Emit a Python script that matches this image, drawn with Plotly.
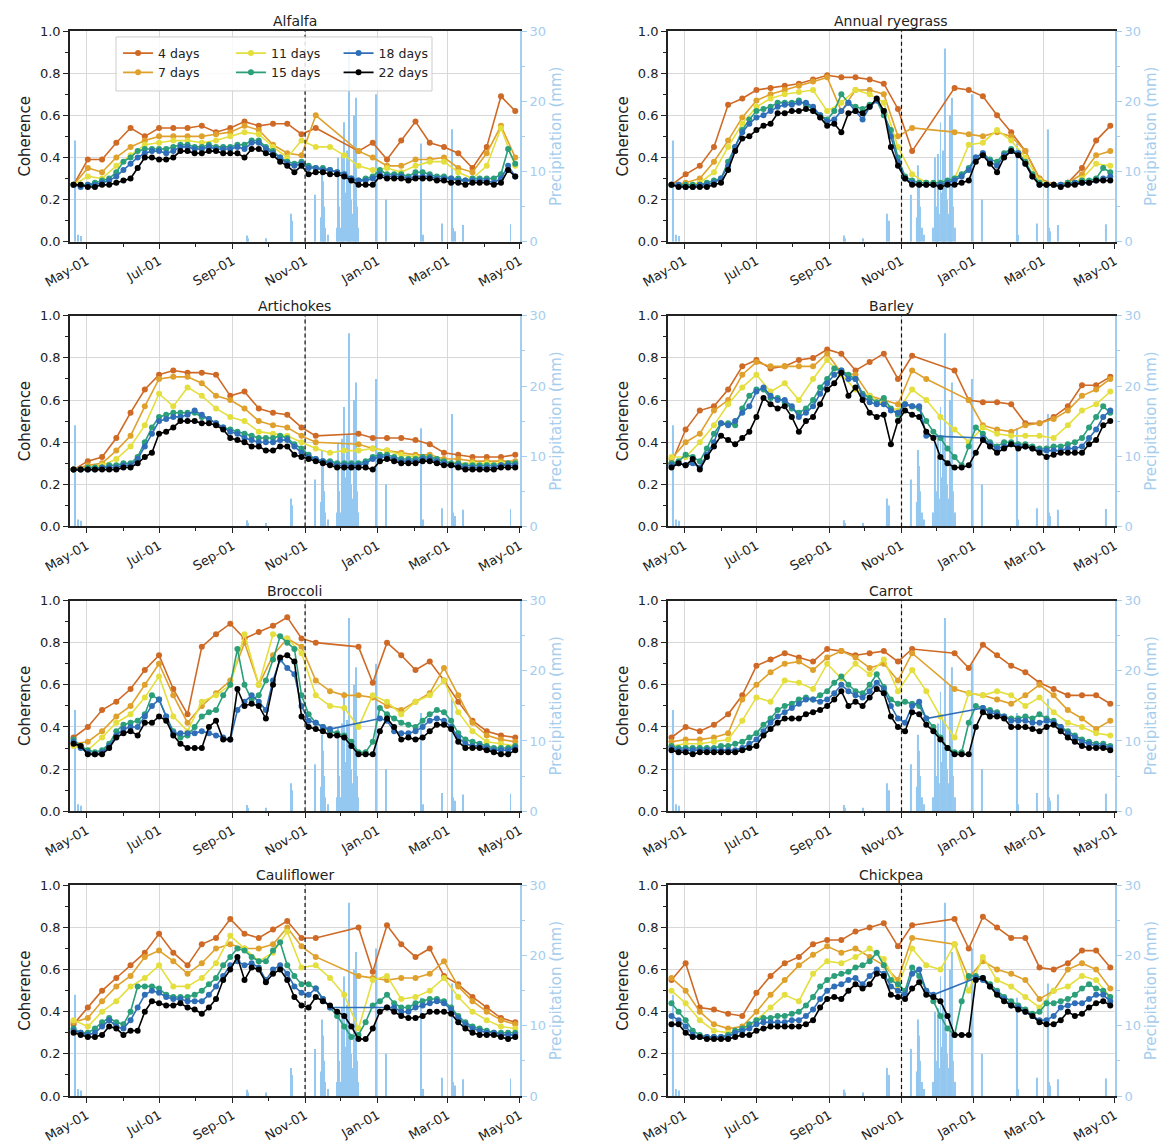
import datetime as dt
import plotly.graph_objects as go
from plotly.subplots import make_subplots

# ---------------- data ----------------
CROPS = ["Alfalfa", "Annual ryegrass", "Artichokes", "Barley",
         "Broccoli", "Carrot", "Cauliflower", "Chickpea"]
LAGS = ["4 days", "7 days", "11 days", "15 days", "18 days", "22 days"]

START = dt.date(2017, 4, 20)
DATES_6 = [START + dt.timedelta(days=6 * i) for i in range(63)]   # 6-day acquisitions
DATES_12 = DATES_6[::2]                                            # 12-day acquisitions

PRECIP_DATES = ["2017-04-21", "2017-04-24", "2017-04-26", "2017-09-13", "2017-09-14",
                "2017-09-29", "2017-10-20", "2017-10-21", "2017-11-09", "2017-11-14",
                "2017-11-15", "2017-11-16", "2017-11-17", "2017-11-18", "2017-11-20",
                "2017-11-28", "2017-11-29", "2017-11-30", "2017-12-01", "2017-12-02",
                "2017-12-03", "2017-12-04", "2017-12-05", "2017-12-06", "2017-12-07",
                "2017-12-08", "2017-12-09", "2017-12-10", "2017-12-11", "2017-12-12",
                "2017-12-13", "2017-12-14", "2017-12-15", "2017-12-16", "2017-12-31",
                "2018-01-08", "2018-02-07", "2018-02-08", "2018-02-24", "2018-03-05",
                "2018-03-06", "2018-03-07", "2018-03-14", "2018-04-23"]
PRECIP_MM = [14.4, 1.0, 0.8, 0.9, 0.5,
             0.5, 4.0, 3.0, 6.7, 3.5,
             10.9, 8.6, 5.0, 2.0, 1.0,
             2.0, 12.0, 5.0, 2.0, 12.5,
             4.0, 17.0, 7.0, 13.0, 5.0,
             27.5, 9.0, 6.0, 4.0, 18.0,
             7.0, 20.5, 5.0, 2.0, 21.0,
             6.0, 14.0, 1.0, 2.6, 16.0,
             2.0, 1.5, 2.4, 2.5]

N = None
# ---- Alfalfa ----
ALFALFA_4 = [0.27, 0.39, 0.39, 0.47, 0.54, 0.50, 0.54, 0.54, 0.54, 0.55, 0.52, 0.54, 0.57, 0.55, 0.56, 0.56,
             0.51, 0.54, N, N, 0.43, 0.47, 0.39, 0.48, 0.57, 0.47, 0.45, 0.42, 0.35, 0.45, 0.69, 0.62]
ALFALFA_7 = [0.27, 0.35, 0.33, 0.40, 0.45, 0.48, 0.50, 0.50, 0.50, 0.50, 0.51, 0.52, 0.55, 0.53, 0.46, 0.42,
             0.41, 0.60, N, N, 0.43, 0.40, 0.36, 0.36, 0.39, 0.39, 0.40, 0.35, 0.33, 0.42, 0.55, 0.40]
ALFALFA_11 = [0.27, 0.31, 0.30, 0.36, 0.41, 0.46, 0.47, 0.48, 0.48, 0.47, 0.48, 0.50, 0.52, 0.51, 0.45, 0.40,
              0.48, 0.45, 0.45, 0.41, 0.36, 0.34, 0.35, 0.33, 0.36, 0.38, 0.38, 0.33, 0.30, 0.36, 0.54, 0.36]
ALFALFA_15 = [0.27, 0.27, 0.27, 0.28, 0.29, 0.30, 0.33, 0.38, 0.40, 0.43,
              0.44, 0.44, 0.44, 0.44, 0.45, 0.46, 0.46, 0.45, 0.45, 0.46,
              0.45, 0.45, 0.45, 0.46, 0.46, 0.48, 0.48, 0.45, 0.43, 0.40,
              0.38, 0.37, 0.38, 0.36, 0.35, 0.35, 0.34, 0.33, 0.32, 0.30,
              0.29, 0.30, 0.31, 0.34, 0.32, 0.32, 0.32, 0.31, 0.33, 0.33,
              0.32, 0.31, 0.31, 0.30, 0.30, 0.29, 0.30, 0.30, 0.30, 0.30,
              0.32, 0.44, 0.37]
ALFALFA_18 = [0.27, 0.26, 0.27, 0.27, 0.28, 0.29, 0.31, 0.34, 0.37, 0.40,
              0.42, 0.43, 0.43, 0.42, 0.43, 0.45, 0.45, 0.44, 0.44, 0.45,
              0.44, 0.44, 0.44, 0.45, 0.44, 0.47, 0.47, 0.44, 0.42, 0.40,
              0.37, 0.36, 0.37, 0.35, 0.35, 0.34, 0.34, 0.33, 0.32, 0.30,
              0.29, 0.29, 0.30, 0.32, 0.31, 0.31, 0.31, 0.30, 0.31, 0.31,
              0.31, 0.30, 0.30, 0.30, 0.29, 0.29, 0.29, 0.29, 0.29, 0.28,
              0.30, 0.36, 0.31]
ALFALFA_22 = [0.27, 0.27, 0.26, 0.26, 0.27, 0.27, 0.28, 0.29, 0.30, 0.35,
              0.40, 0.40, 0.39, 0.39, 0.40, 0.43, 0.43, 0.42, 0.42, 0.43,
              0.43, 0.42, 0.42, 0.42, 0.40, 0.44, 0.44, 0.42, 0.41, 0.38,
              0.36, 0.33, 0.36, 0.32, 0.33, 0.33, 0.32, 0.32, 0.31, 0.29,
              0.27, 0.27, 0.27, 0.31, 0.30, 0.30, 0.30, 0.29, 0.30, 0.30,
              0.30, 0.29, 0.29, 0.28, 0.28, 0.27, 0.28, 0.28, 0.28, 0.27,
              0.28, 0.34, 0.31]
# ---- Annual ryegrass ----
RYEGRASS_4 = [0.27, 0.32, 0.36, 0.45, 0.65, 0.68, 0.72, 0.73, 0.74, 0.75, 0.77, 0.79, 0.78, 0.78, 0.77, 0.75,
              0.63, 0.43, N, N, 0.73, 0.72, 0.69, 0.60, 0.52, 0.43, 0.30, 0.27, 0.28, 0.35, 0.48, 0.55]
RYEGRASS_7 = [0.27, 0.28, 0.30, 0.38, 0.48, 0.59, 0.67, 0.70, 0.72, 0.74, 0.76, 0.78, 0.62, 0.72, 0.72, 0.70,
              0.50, 0.54, N, N, 0.52, 0.51, 0.50, 0.52, 0.50, 0.43, 0.30, 0.27, 0.28, 0.32, 0.41, 0.43]
RYEGRASS_11 = [0.27, 0.27, 0.28, 0.33, 0.45, 0.56, 0.64, 0.68, 0.70, 0.71, 0.72, 0.62, 0.66, 0.72, 0.70, 0.66,
               0.45, 0.32, 0.28, 0.28, 0.30, 0.46, 0.47, 0.53, 0.48, 0.40, 0.29, 0.27, 0.27, 0.30, 0.37, 0.36]
RYEGRASS_15 = [0.27, 0.27, 0.27, 0.27, 0.27, 0.28, 0.29, 0.30, 0.38, 0.45,
               0.53, 0.58, 0.62, 0.63, 0.64, 0.66, 0.66, 0.66, 0.67, 0.65,
               0.63, 0.60, 0.58, 0.62, 0.70, 0.66, 0.64, 0.63, 0.65, 0.67,
               0.60, 0.53, 0.40, 0.31, 0.29, 0.28, 0.28, 0.28, 0.28, 0.29,
               0.30, 0.32, 0.35, 0.40, 0.42, 0.39, 0.38, 0.42, 0.44, 0.42,
               0.38, 0.32, 0.28, 0.27, 0.27, 0.27, 0.28, 0.28, 0.29, 0.29,
               0.30, 0.35, 0.33]
RYEGRASS_18 = [0.27, 0.27, 0.26, 0.26, 0.27, 0.27, 0.28, 0.30, 0.36, 0.45,
               0.52, 0.56, 0.59, 0.60, 0.62, 0.64, 0.65, 0.65, 0.66, 0.66,
               0.64, 0.60, 0.57, 0.58, 0.62, 0.66, 0.62, 0.58, 0.64, 0.67,
               0.62, 0.50, 0.38, 0.30, 0.28, 0.27, 0.27, 0.27, 0.27, 0.28,
               0.29, 0.31, 0.34, 0.40, 0.42, 0.38, 0.36, 0.41, 0.43, 0.42,
               0.37, 0.31, 0.27, 0.27, 0.27, 0.27, 0.27, 0.28, 0.28, 0.28,
               0.29, 0.30, 0.31]
RYEGRASS_22 = [0.27, 0.26, 0.26, 0.26, 0.26, 0.26, 0.27, 0.28, 0.34, 0.43,
               0.49, 0.50, 0.53, 0.55, 0.56, 0.61, 0.61, 0.62, 0.62, 0.63,
               0.62, 0.59, 0.55, 0.56, 0.52, 0.61, 0.62, 0.61, 0.64, 0.68,
               0.62, 0.45, 0.36, 0.30, 0.27, 0.27, 0.27, 0.27, 0.26, 0.27,
               0.27, 0.28, 0.29, 0.38, 0.41, 0.37, 0.33, 0.40, 0.43, 0.41,
               0.37, 0.31, 0.27, 0.27, 0.27, 0.26, 0.27, 0.27, 0.28, 0.28,
               0.29, 0.29, 0.29]
# ---- Artichokes ----
ARTICHOKES_4 = [0.27, 0.31, 0.33, 0.42, 0.54, 0.65, 0.72, 0.74, 0.73, 0.73, 0.72, 0.62, 0.64, 0.56, 0.54, 0.53,
                0.47, 0.43, N, N, 0.44, 0.42, 0.42, 0.42, 0.41, 0.39, 0.35, 0.34, 0.33, 0.33, 0.33, 0.34]
ARTICHOKES_7 = [0.27, 0.29, 0.30, 0.36, 0.43, 0.57, 0.70, 0.71, 0.71, 0.68, 0.62, 0.60, 0.56, 0.50, 0.48, 0.47,
                0.43, 0.40, N, N, 0.39, 0.37, 0.36, 0.35, 0.34, 0.34, 0.32, 0.32, 0.31, 0.31, 0.31, 0.31]
ARTICHOKES_11 = [0.27, 0.28, 0.29, 0.32, 0.38, 0.48, 0.63, 0.57, 0.66, 0.62, 0.56, 0.52, 0.50, 0.45, 0.44, 0.43,
                 0.40, 0.37, 0.35, 0.36, 0.36, 0.37, 0.36, 0.34, 0.33, 0.33, 0.31, 0.30, 0.30, 0.30, 0.30, 0.30]
ARTICHOKES_15 = [0.27, 0.27, 0.28, 0.28, 0.28, 0.29, 0.29, 0.30, 0.30, 0.33,
                 0.40, 0.47, 0.52, 0.53, 0.54, 0.54, 0.54, 0.54, 0.52, 0.51,
                 0.49, 0.47, 0.46, 0.45, 0.44, 0.43, 0.42, 0.42, 0.42, 0.43,
                 0.42, 0.39, 0.37, 0.34, 0.32, 0.31, 0.31, 0.30, 0.30, 0.30,
                 0.30, 0.31, 0.33, 0.34, 0.34, 0.33, 0.32, 0.32, 0.32, 0.33,
                 0.33, 0.32, 0.31, 0.30, 0.30, 0.29, 0.29, 0.29, 0.29, 0.29,
                 0.29, 0.30, 0.30]
ARTICHOKES_18 = [0.27, 0.27, 0.27, 0.27, 0.28, 0.28, 0.28, 0.29, 0.29, 0.32,
                 0.38, 0.44, 0.50, 0.51, 0.52, 0.52, 0.53, 0.55, 0.53, 0.51,
                 0.49, 0.47, 0.45, 0.44, 0.42, 0.41, 0.40, 0.40, 0.40, 0.41,
                 0.41, 0.38, 0.35, 0.33, 0.32, 0.31, 0.30, 0.29, 0.29, 0.29,
                 0.29, 0.30, 0.32, 0.33, 0.33, 0.32, 0.31, 0.31, 0.31, 0.32,
                 0.32, 0.31, 0.30, 0.29, 0.29, 0.28, 0.28, 0.28, 0.28, 0.28,
                 0.29, 0.29, 0.29]
ARTICHOKES_22 = [0.27, 0.27, 0.27, 0.27, 0.27, 0.27, 0.27, 0.28, 0.28, 0.30,
                 0.33, 0.35, 0.44, 0.45, 0.47, 0.50, 0.50, 0.50, 0.49, 0.49,
                 0.48, 0.46, 0.42, 0.41, 0.40, 0.38, 0.38, 0.36, 0.36, 0.38,
                 0.38, 0.34, 0.33, 0.32, 0.31, 0.30, 0.29, 0.28, 0.28, 0.28,
                 0.28, 0.28, 0.27, 0.31, 0.32, 0.31, 0.30, 0.30, 0.30, 0.31,
                 0.31, 0.30, 0.29, 0.29, 0.28, 0.27, 0.27, 0.27, 0.27, 0.27,
                 0.28, 0.28, 0.28]
# ---- Barley ----
BARLEY_4 = [0.30, 0.46, 0.55, 0.57, 0.65, 0.76, 0.79, 0.75, 0.76, 0.79, 0.80, 0.84, 0.82, 0.74, 0.78, 0.82,
            0.70, 0.81, N, N, 0.74, 0.60, 0.59, 0.59, 0.58, 0.49, 0.49, 0.52, 0.57, 0.67, 0.67, 0.71]
BARLEY_7 = [0.32, 0.40, 0.44, 0.55, 0.60, 0.72, 0.78, 0.76, 0.76, 0.76, 0.76, 0.82, 0.73, 0.72, 0.62, 0.60,
            0.58, 0.74, 0.70, N, N, 0.60, 0.48, 0.46, 0.45, 0.48, 0.49, 0.51, 0.55, 0.62, 0.65, 0.70]
BARLEY_11 = [0.33, 0.33, 0.40, 0.48, 0.58, 0.66, 0.72, 0.64, 0.68, 0.60, 0.70, 0.79, 0.72, 0.65, 0.62, 0.58,
             0.55, 0.65, 0.60, 0.52, 0.46, 0.40, 0.47, 0.44, 0.43, 0.43, 0.43, 0.42, 0.48, 0.55, 0.58, 0.64]
BARLEY_15 = [0.30, 0.31, 0.34, 0.33, 0.31, 0.37, 0.44, 0.49, 0.49, 0.48,
             0.56, 0.62, 0.65, 0.65, 0.61, 0.61, 0.59, 0.56, 0.54, 0.56,
             0.60, 0.66, 0.70, 0.75, 0.74, 0.72, 0.70, 0.63, 0.61, 0.59,
             0.61, 0.56, 0.53, 0.58, 0.57, 0.56, 0.50, 0.45, 0.42, 0.37,
             0.33, 0.29, 0.38, 0.47, 0.44, 0.40, 0.38, 0.40, 0.40, 0.39,
             0.39, 0.38, 0.37, 0.37, 0.38, 0.38, 0.39, 0.40, 0.42, 0.47,
             0.52, 0.57, 0.54]
BARLEY_18 = [0.29, 0.30, 0.29, 0.30, 0.28, 0.34, 0.40, 0.49, 0.48, 0.50,
             0.54, 0.57, 0.64, 0.66, 0.62, 0.60, 0.60, 0.57, 0.52, 0.54,
             0.57, 0.63, 0.68, 0.72, 0.74, 0.70, 0.70, 0.62, 0.59, 0.58,
             0.58, 0.55, 0.54, 0.58, 0.57, 0.57, 0.43, N, N, N,
             N, N, N, N, 0.42, 0.39, 0.37, 0.38, 0.39, 0.38,
             0.38, 0.37, 0.36, 0.36, 0.36, 0.36, 0.37, 0.37, 0.38, 0.42,
             0.46, 0.52, 0.55]
BARLEY_22 = [0.28, 0.30, 0.29, 0.32, 0.27, 0.33, 0.38, 0.43, 0.41, 0.39,
             0.42, 0.45, 0.52, 0.61, 0.58, 0.56, 0.57, 0.52, 0.45, 0.50,
             0.52, 0.58, 0.65, 0.68, 0.73, 0.62, 0.66, 0.60, 0.54, 0.52,
             0.53, 0.39, 0.50, 0.55, 0.53, 0.52, 0.45, 0.42, 0.33, 0.30,
             0.28, 0.28, 0.29, 0.35, 0.41, 0.38, 0.35, 0.37, 0.39, 0.37,
             0.38, 0.37, 0.35, 0.33, 0.34, 0.35, 0.35, 0.35, 0.35, 0.39,
             0.41, 0.48, 0.50]
# ---- Broccoli ----
BROCCOLI_4 = [0.35, 0.40, 0.48, 0.52, 0.58, 0.67, 0.74, 0.58, 0.46, 0.78, 0.84, 0.89, 0.82, 0.85, 0.88, 0.92,
              0.82, 0.80, N, N, 0.78, 0.61, 0.80, 0.74, 0.67, 0.71, 0.62, 0.52, 0.43, 0.38, 0.36, 0.35]
BROCCOLI_7 = [0.32, 0.33, 0.38, 0.45, 0.50, 0.60, 0.70, 0.55, 0.42, 0.50, 0.56, 0.62, 0.80, 0.60, 0.74, 0.82,
              0.78, 0.62, 0.57, 0.55, 0.55, 0.54, 0.50, 0.48, 0.52, 0.56, 0.68, 0.55, 0.42, 0.36, 0.34, 0.33]
BROCCOLI_11 = [0.31, 0.29, 0.35, 0.42, 0.46, 0.54, 0.64, 0.45, 0.38, 0.52, 0.55, 0.60, 0.84, 0.60, 0.84, 0.82,
               0.75, 0.55, 0.50, 0.49, 0.40, 0.55, 0.52, 0.46, 0.52, 0.55, 0.62, 0.47, 0.38, 0.33, 0.32, 0.31]
BROCCOLI_15 = [0.34, 0.31, 0.29, 0.28, 0.29, 0.32, 0.38, 0.41, 0.42, 0.43,
               0.46, 0.55, 0.53, 0.45, 0.38, 0.35, 0.36, 0.40, 0.45, 0.47,
               0.48, 0.55, 0.60, 0.77, 0.60, 0.53, 0.55, 0.62, 0.72, 0.83,
               0.80, 0.77, 0.55, 0.46, 0.42, 0.40, 0.38, 0.37, 0.36, 0.33,
               0.28, 0.28, 0.33, 0.49, 0.46, 0.44, 0.42, 0.41, 0.40, 0.43,
               0.46, 0.48, 0.47, 0.43, 0.37, 0.34, 0.33, 0.32, 0.31, 0.30,
               0.30, 0.30, 0.31]
BROCCOLI_18 = [0.33, 0.30, 0.28, 0.27, 0.28, 0.31, 0.36, 0.39, 0.40, 0.40,
               0.45, 0.50, 0.53, 0.45, 0.37, 0.37, 0.37, 0.37, 0.38, 0.37,
               0.36, 0.35, 0.34, 0.48, 0.52, 0.55, 0.52, 0.48, 0.62, 0.72,
               0.68, 0.65, 0.50, 0.43, 0.42, 0.40, 0.39, N, N, N,
               N, N, N, 0.44, 0.43, 0.38, 0.37, 0.37, 0.38, 0.40,
               0.43, 0.44, 0.43, 0.40, 0.35, 0.32, 0.31, 0.31, 0.30, 0.29,
               0.29, 0.29, 0.30]
BROCCOLI_22 = [0.32, 0.31, 0.27, 0.27, 0.27, 0.30, 0.35, 0.37, 0.38, 0.36,
               0.42, 0.42, 0.45, 0.43, 0.36, 0.32, 0.30, 0.30, 0.30, 0.40,
               0.43, 0.34, 0.34, 0.58, 0.50, 0.51, 0.50, 0.44, 0.60, 0.73,
               0.74, 0.71, 0.45, 0.40, 0.39, 0.38, 0.36, 0.36, 0.35, 0.31,
               0.27, 0.27, 0.27, 0.38, 0.44, 0.40, 0.34, 0.35, 0.34, 0.35,
               0.38, 0.41, 0.41, 0.39, 0.33, 0.30, 0.30, 0.30, 0.29, 0.28,
               0.27, 0.27, 0.29]
# ---- Carrot ----
CARROT_4 = [0.35, 0.40, 0.38, 0.41, 0.46, 0.55, 0.69, 0.72, 0.75, 0.73, 0.71, 0.77, 0.76, 0.74, 0.75, 0.76,
            0.71, 0.77, N, N, 0.75, 0.68, 0.79, 0.74, 0.69, 0.66, 0.61, 0.58, 0.55, 0.55, 0.55, 0.51]
CARROT_7 = [0.33, 0.34, 0.34, 0.35, 0.37, 0.53, 0.60, 0.66, 0.70, 0.71, 0.67, 0.73, 0.76, 0.73, 0.68, 0.70,
            0.62, 0.75, N, N, 0.58, 0.56, 0.55, 0.53, 0.51, 0.55, 0.60, 0.55, 0.48, 0.44, 0.39, 0.43]
CARROT_11 = [0.31, 0.32, 0.32, 0.33, 0.34, 0.43, 0.54, 0.52, 0.62, 0.61, 0.58, 0.70, 0.63, 0.70, 0.65, 0.72,
             0.57, 0.67, 0.57, 0.45, 0.35, 0.56, 0.55, 0.57, 0.55, 0.50, 0.54, 0.47, 0.42, 0.40, 0.37, 0.36]
CARROT_15 = [0.31, 0.30, 0.30, 0.30, 0.30, 0.30, 0.30, 0.31, 0.31, 0.32,
             0.33, 0.35, 0.37, 0.41, 0.44, 0.48, 0.50, 0.51, 0.53, 0.54,
             0.53, 0.55, 0.57, 0.61, 0.64, 0.60, 0.57, 0.56, 0.60, 0.65,
             0.59, 0.53, 0.51, 0.52, 0.51, 0.50, 0.44, 0.40, 0.35, 0.30,
             0.28, 0.28, 0.42, 0.50, 0.49, 0.48, 0.47, 0.45, 0.44, 0.44,
             0.45, 0.44, 0.46, 0.44, 0.43, 0.40, 0.38, 0.36, 0.34, 0.33,
             0.32, 0.32, 0.31]
CARROT_18 = [0.30, 0.29, 0.29, 0.29, 0.29, 0.29, 0.29, 0.29, 0.29, 0.29,
             0.30, 0.32, 0.34, 0.38, 0.42, 0.45, 0.47, 0.49, 0.51, 0.53,
             0.53, 0.52, 0.53, 0.56, 0.60, 0.57, 0.55, 0.54, 0.57, 0.61,
             0.58, 0.50, 0.44, 0.42, 0.50, 0.52, 0.44, N, N, N,
             N, N, N, N, 0.49, 0.47, 0.46, 0.45, 0.43, 0.43,
             0.43, 0.42, 0.42, 0.43, 0.42, 0.40, 0.37, 0.35, 0.33, 0.32,
             0.31, 0.31, 0.30]
CARROT_22 = [0.29, 0.28, 0.28, 0.27, 0.28, 0.28, 0.28, 0.28, 0.28, 0.28,
             0.29, 0.30, 0.31, 0.36, 0.39, 0.42, 0.44, 0.44, 0.44, 0.46,
             0.47, 0.48, 0.50, 0.53, 0.57, 0.50, 0.52, 0.50, 0.54, 0.58,
             0.56, 0.45, 0.40, 0.38, 0.47, 0.46, 0.41, 0.38, 0.34, 0.30,
             0.27, 0.27, 0.27, 0.40, 0.47, 0.45, 0.45, 0.44, 0.40, 0.40,
             0.40, 0.39, 0.38, 0.40, 0.41, 0.38, 0.35, 0.33, 0.31, 0.30,
             0.30, 0.30, 0.29]
# ---- Cauliflower ----
CAULI_4 = [0.34, 0.42, 0.50, 0.56, 0.62, 0.68, 0.77, 0.68, 0.62, 0.72, 0.75, 0.84, 0.77, 0.75, 0.79, 0.83,
           0.75, 0.75, N, N, 0.80, 0.59, 0.81, 0.72, 0.66, 0.70, 0.57, 0.53, 0.47, 0.42, 0.37, 0.35]
CAULI_7 = [0.35, 0.37, 0.45, 0.52, 0.57, 0.66, 0.69, 0.64, 0.58, 0.63, 0.70, 0.72, 0.70, 0.70, 0.72, 0.80,
           0.71, 0.66, N, N, 0.57, 0.56, 0.55, 0.56, 0.56, 0.58, 0.64, 0.52, 0.45, 0.40, 0.36, 0.34]
CAULI_11 = [0.36, 0.33, 0.40, 0.45, 0.52, 0.56, 0.62, 0.52, 0.52, 0.56, 0.63, 0.76, 0.70, 0.64, 0.68, 0.78,
            0.61, 0.62, 0.56, 0.48, 0.32, 0.55, 0.57, 0.46, 0.47, 0.50, 0.56, 0.47, 0.40, 0.36, 0.33, 0.32]
CAULI_15 = [0.32, 0.30, 0.30, 0.32, 0.35, 0.37, 0.35, 0.34, 0.40, 0.52,
            0.52, 0.52, 0.51, 0.48, 0.47, 0.47, 0.47, 0.48, 0.50, 0.53,
            0.56, 0.62, 0.66, 0.70, 0.69, 0.66, 0.64, 0.64, 0.69, 0.73,
            0.62, 0.57, 0.53, 0.53, 0.51, 0.46, 0.42, 0.38, 0.33, 0.28,
            0.29, 0.35, 0.43, 0.45, 0.48, 0.44, 0.42, 0.42, 0.44, 0.45,
            0.46, 0.46, 0.45, 0.42, 0.38, 0.35, 0.33, 0.32, 0.31, 0.30,
            0.30, 0.30, 0.30]
CAULI_18 = [0.31, 0.30, 0.29, 0.30, 0.33, 0.36, 0.33, 0.32, 0.36, 0.42,
            0.48, 0.50, 0.49, 0.47, 0.46, 0.46, 0.45, 0.45, 0.45, 0.48,
            0.52, 0.57, 0.62, 0.64, 0.62, 0.63, 0.61, 0.55, 0.60, 0.62,
            0.58, 0.52, 0.49, 0.48, 0.51, 0.46, 0.42, N, N, N,
            N, N, N, N, 0.42, 0.42, 0.40, 0.40, 0.42, 0.43,
            0.44, 0.45, 0.44, 0.41, 0.37, 0.34, 0.32, 0.31, 0.30, 0.30,
            0.29, 0.29, 0.29]
CAULI_22 = [0.30, 0.29, 0.28, 0.28, 0.29, 0.33, 0.32, 0.29, 0.31, 0.31,
            0.40, 0.45, 0.44, 0.43, 0.43, 0.44, 0.42, 0.41, 0.39, 0.42,
            0.46, 0.55, 0.60, 0.66, 0.55, 0.61, 0.60, 0.54, 0.58, 0.60,
            0.55, 0.47, 0.43, 0.42, 0.47, 0.45, 0.43, 0.40, 0.38, 0.33,
            0.27, 0.27, 0.32, 0.40, 0.42, 0.40, 0.38, 0.37, 0.37, 0.38,
            0.40, 0.40, 0.40, 0.39, 0.35, 0.32, 0.30, 0.29, 0.29, 0.29,
            0.28, 0.27, 0.28]
# ---- Chickpea ----
CHICKPEA_4 = [0.55, 0.63, 0.42, 0.41, 0.39, 0.38, 0.49, 0.57, 0.63, 0.66, 0.72, 0.74, 0.74, 0.78, 0.80, 0.82,
              0.71, 0.81, N, N, 0.84, 0.70, 0.85, 0.80, 0.75, 0.75, 0.61, 0.60, 0.63, 0.69, 0.69, 0.61]
CHICKPEA_7 = [0.56, 0.50, 0.40, 0.34, 0.32, 0.33, 0.40, 0.48, 0.55, 0.62, 0.67, 0.71, 0.68, 0.70, 0.66, 0.62,
              0.55, 0.75, N, N, 0.72, 0.56, 0.64, 0.60, 0.58, 0.55, 0.46, 0.50, 0.60, 0.63, 0.60, 0.51]
CHICKPEA_11 = [0.50, 0.44, 0.36, 0.31, 0.30, 0.31, 0.36, 0.42, 0.48, 0.45, 0.58, 0.64, 0.63, 0.66, 0.70, 0.65,
               0.52, 0.70, 0.62, 0.60, 0.72, 0.50, 0.66, 0.55, 0.52, 0.47, 0.42, 0.50, 0.52, 0.57, 0.55, 0.47]
CHICKPEA_15 = [0.44, 0.40, 0.36, 0.31, 0.29, 0.28, 0.28, 0.28, 0.29, 0.31,
               0.32, 0.34, 0.36, 0.37, 0.37, 0.38, 0.38, 0.39, 0.40, 0.43,
               0.47, 0.52, 0.55, 0.57, 0.58, 0.59, 0.61, 0.62, 0.64, 0.68,
               0.62, 0.55, 0.53, 0.50, 0.61, 0.57, 0.50, 0.45, 0.38, 0.32,
               0.29, 0.45, 0.57, 0.57, 0.56, 0.53, 0.50, 0.47, 0.45, 0.43,
               0.41, 0.39, 0.40, 0.44, 0.44, 0.45, 0.46, 0.48, 0.51, 0.53,
               0.51, 0.50, 0.47]
CHICKPEA_18 = [0.38, 0.36, 0.33, 0.29, 0.28, 0.28, 0.28, 0.28, 0.28, 0.30,
               0.31, 0.32, 0.34, 0.35, 0.35, 0.35, 0.35, 0.36, 0.36, 0.38,
               0.41, 0.46, 0.50, 0.52, 0.53, 0.55, 0.56, 0.53, 0.57, 0.60,
               0.58, 0.52, 0.50, 0.48, 0.58, 0.60, 0.50, 0.48, N, N,
               N, N, N, 0.56, 0.55, 0.52, 0.49, 0.46, 0.43, 0.42,
               0.40, 0.38, 0.36, 0.36, 0.38, 0.42, 0.43, 0.44, 0.44, 0.46,
               0.48, 0.48, 0.45]
CHICKPEA_22 = [0.34, 0.34, 0.30, 0.28, 0.28, 0.27, 0.27, 0.27, 0.27, 0.28,
               0.29, 0.29, 0.31, 0.32, 0.33, 0.33, 0.33, 0.33, 0.33, 0.34,
               0.36, 0.42, 0.46, 0.47, 0.46, 0.50, 0.53, 0.51, 0.53, 0.58,
               0.57, 0.48, 0.47, 0.46, 0.51, 0.54, 0.48, 0.47, 0.45, 0.38,
               0.29, 0.29, 0.29, 0.55, 0.56, 0.52, 0.48, 0.45, 0.43, 0.41,
               0.40, 0.38, 0.35, 0.34, 0.34, 0.36, 0.40, 0.38, 0.39, 0.42,
               0.44, 0.45, 0.43]

SERIES = {
    "Alfalfa": [ALFALFA_4, ALFALFA_7, ALFALFA_11, ALFALFA_15, ALFALFA_18, ALFALFA_22],
    "Annual ryegrass": [RYEGRASS_4, RYEGRASS_7, RYEGRASS_11, RYEGRASS_15, RYEGRASS_18, RYEGRASS_22],
    "Artichokes": [ARTICHOKES_4, ARTICHOKES_7, ARTICHOKES_11, ARTICHOKES_15, ARTICHOKES_18, ARTICHOKES_22],
    "Barley": [BARLEY_4, BARLEY_7, BARLEY_11, BARLEY_15, BARLEY_18, BARLEY_22],
    "Broccoli": [BROCCOLI_4, BROCCOLI_7, BROCCOLI_11, BROCCOLI_15, BROCCOLI_18, BROCCOLI_22],
    "Carrot": [CARROT_4, CARROT_7, CARROT_11, CARROT_15, CARROT_18, CARROT_22],
    "Cauliflower": [CAULI_4, CAULI_7, CAULI_11, CAULI_15, CAULI_18, CAULI_22],
    "Chickpea": [CHICKPEA_4, CHICKPEA_7, CHICKPEA_11, CHICKPEA_15, CHICKPEA_18, CHICKPEA_22],
}

for crop, lists in SERIES.items():
    for j, vals in enumerate(lists):
        expected = len(DATES_12) if j < 3 else len(DATES_6)
        assert len(vals) == expected, (crop, LAGS[j], len(vals), expected)

# ---------------- style ----------------
COLORS = ["#cf6a26", "#dfa12c", "#e4df3e", "#2b9f79", "#2f6fb8", "#000000"]
LEGEND_OF = ["legend", "legend", "legend2", "legend2", "legend3", "legend3"]
PRECIP_BAR = "#94c8f0"
PRECIP_AXIS = "#a5cdee"
GRID = "#d8d8d8"
FONT = "DejaVu Sans"
DAY_MS = 86400000
COL_DOMAINS = [[0.0, 0.4306], [0.5722, 1.0]]

fig = make_subplots(rows=4, cols=2, specs=[[{"secondary_y": True}] * 2] * 4,
                    subplot_titles=CROPS, horizontal_spacing=0.1416, vertical_spacing=0.0695)

for i, crop in enumerate(CROPS):
    r, c = i // 2 + 1, i % 2 + 1
    fig.add_trace(go.Bar(x=PRECIP_DATES, y=PRECIP_MM, width=0.75 * DAY_MS,
                         marker=dict(color=PRECIP_BAR, line=dict(width=0)),
                         showlegend=False, hoverinfo="skip"),
                  row=r, col=c, secondary_y=False)
    for j, lag in enumerate(LAGS):
        xs = DATES_12 if j < 3 else DATES_6
        fig.add_trace(go.Scatter(x=xs, y=SERIES[crop][j], mode="lines+markers", name=lag,
                                 line=dict(color=COLORS[j], width=1.6),
                                 marker=dict(color=COLORS[j], size=6),
                                 connectgaps=True, showlegend=(i == 0),
                                 legend=LEGEND_OF[j]),
                      row=r, col=c, secondary_y=True)
    fig.add_vline(x="2017-11-01", line=dict(color="#111", width=1.2, dash="4px,3px"), row=r, col=c)
    fig.update_xaxes(domain=COL_DOMAINS[c - 1], row=r, col=c)

# re-centre the subplot titles over the widened columns
for k, ann in enumerate(fig.layout.annotations):
    d = COL_DOMAINS[k % 2]
    ann.x = (d[0] + d[1]) / 2

fig.update_xaxes(type="date", range=["2017-04-17", "2018-05-01"], tick0="2017-05-01", dtick="M2",
                 tickformat="%b-%d", tickangle=-30, showgrid=True, gridcolor=GRID, gridwidth=1,
                 showline=True, linecolor="#222", linewidth=1.6, mirror=True,
                 ticks="outside", ticklen=5, tickcolor="#222",
                 tickfont=dict(size=13, color="#222"),
                 minor=dict(ticks="outside", dtick="M1", ticklen=3, tickcolor="#222", showgrid=False),
                 zeroline=False, automargin=False)

# precipitation axis (primary, right side, drawn beneath the lines)
fig.update_yaxes(secondary_y=False, side="right", range=[0, 30], tickvals=[0, 10, 20, 30],
                 showgrid=False, showline=True, linecolor=PRECIP_AXIS, linewidth=1.6,
                 ticks="outside", ticklen=5, tickcolor=PRECIP_AXIS,
                 tickfont=dict(size=13, color=PRECIP_AXIS),
                 minor=dict(ticks="outside", dtick=5, ticklen=3, tickcolor=PRECIP_AXIS),
                 title=dict(text="Precipitation (mm)", font=dict(size=15, color=PRECIP_AXIS), standoff=6),
                 zeroline=False, automargin=False)

# coherence axis (overlaying, left side)
fig.update_yaxes(secondary_y=True, side="left", range=[0, 1], dtick=0.2, tickformat=".1f",
                 showgrid=True, gridcolor=GRID, gridwidth=1,
                 showline=True, linecolor="#222", linewidth=1.6,
                 ticks="outside", ticklen=5, tickcolor="#222",
                 tickfont=dict(size=13, color="#222"),
                 minor=dict(ticks="outside", dtick=0.1, ticklen=3, tickcolor="#222"),
                 title=dict(text="Coherence", font=dict(size=15, color="#222"), standoff=6),
                 zeroline=False, automargin=False)

fig.update_annotations(font=dict(size=14, color="#222", family=FONT))

leg_common = dict(bgcolor="rgba(0,0,0,0)", borderwidth=0, font=dict(size=12.5, color="#222", family=FONT),
                  xanchor="left", yanchor="top", orientation="v", itemwidth=30, tracegroupgap=0)
fig.update_layout(
    width=1168, height=1146, template="none",
    margin=dict(l=70, r=53, t=31, b=50, autoexpand=False),
    paper_bgcolor="white", plot_bgcolor="white",
    font=dict(family=FONT, size=13, color="#222"),
    barmode="overlay", showlegend=True,
    legend=dict(x=0.046, y=0.993, **leg_common),
    legend2=dict(x=0.154, y=0.993, **leg_common),
    legend3=dict(x=0.257, y=0.993, **leg_common),
)
# legend frame
fig.add_shape(type="rect", xref="paper", yref="paper", x0=0.044, x1=0.3464, y0=0.9437, y1=0.9944,
              line=dict(color="#cccccc", width=1), fillcolor="rgba(255,255,255,0.85)", layer="above")

fig.write_html("out.html")
